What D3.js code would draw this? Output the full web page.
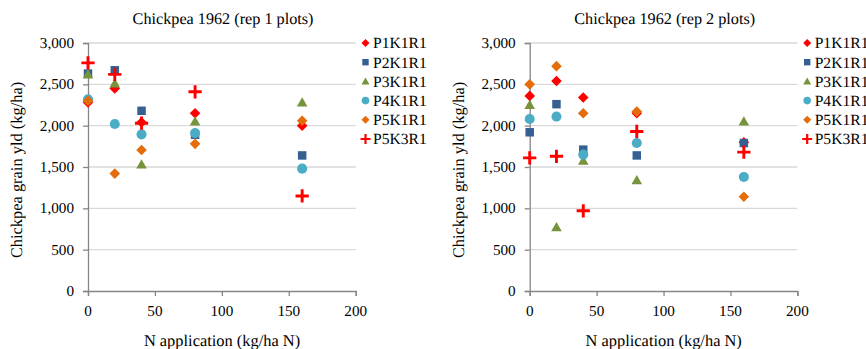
<!DOCTYPE html>
<html><head><meta charset="utf-8">
<script src="https://cdn.jsdelivr.net/npm/d3@7"></script>
<style>body{margin:0;background:#fff}svg{display:block}</style>
</head><body>
<svg id="c" width="866" height="349"></svg>
<script>
const nRates = [0, 20, 40, 80, 160];
const seriesNames = ["P1K1R1", "P2K1R1", "P3K1R1", "P4K1R1", "P5K1R1", "P5K3R1"];
const panelTitles = ["Chickpea 1962 (rep 1 plots)", "Chickpea 1962 (rep 2 plots)"];
// rep 1 yields (kg/ha) per series, at N = 0,20,40,80,160
const rep1P1K1R1 = [2280, 2450, 2040, 2150, 2000];
const rep1P2K1R1 = [2630, 2670, 2180, 1890, 1640];
const rep1P3K1R1 = [2620, 2510, 1530, 2050, 2280];
const rep1P4K1R1 = [2320, 2020, 1895, 1910, 1480];
const rep1P5K1R1 = [2300, 1420, 1705, 1780, 2060];
const rep1P5K3R1 = [2760, 2620, 2030, 2410, 1150];
// rep 2
const rep2P1K1R1 = [2360, 2540, 2340, 2150, 1800];
const rep2P2K1R1 = [1920, 2260, 1710, 1640, 1790];
const rep2P3K1R1 = [2250, 770, 1575, 1340, 2050];
const rep2P4K1R1 = [2080, 2110, 1650, 1790, 1380];
const rep2P5K1R1 = [2500, 2720, 2150, 2170, 1140];
const rep2P5K3R1 = [1610, 1630, 970, 1930, 1680];
const xTicks = [0, 50, 100, 150, 200];
const yTicks = [0, 500, 1000, 1500, 2000, 2500, 3000];
const xTitle = "N application (kg/ha N)";
const yTitle = "Chickpea grain yld (kg/ha)";

const reps = [
  [rep1P1K1R1, rep1P2K1R1, rep1P3K1R1, rep1P4K1R1, rep1P5K1R1, rep1P5K3R1],
  [rep2P1K1R1, rep2P2K1R1, rep2P3K1R1, rep2P4K1R1, rep2P5K1R1, rep2P5K3R1]
];
const colors = ["#FF0000", "#376092", "#77933C", "#4BACC6", "#E46C0A", "#FF0000"];
const shapes = ["diamond", "square", "triangle", "circle", "diamond", "cross"];
const FONT = '"Liberation Serif", "Times New Roman", "Noto Serif", "DejaVu Serif", serif';

// Times-style advance widths (em), used to keep every label at the reference's width
const adv = {" ": .25, ",": .25, "(": .333, ")": .333, "/": .278, "C": .667, "h": .5, "i": .278,
  "c": .444, "k": .5, "p": .5, "e": .444, "a": .444, "r": .333, "l": .278, "o": .5, "t": .278,
  "s": .389, "g": .5, "n": .5, "y": .5, "d": .5, "N": .722, "P": .556, "K": .722, "R": .667};
const emWidth = s => Array.from(s).reduce((w, ch) => w + (adv[ch] !== undefined ? adv[ch] : .5), 0);

const svg = d3.select("#c");

function label(parent, x, y, size, str, anchor, rot) {
  return parent.append("text")
    .attr("transform", `translate(${x},${y}) rotate(${rot || 0})`)
    .attr("text-anchor", anchor || "start")
    .attr("text-rendering", "geometricPrecision")
    .attr("textLength", (emWidth(str) * size).toFixed(2))
    .attr("lengthAdjust", "spacingAndGlyphs")
    .style("font-family", FONT).style("font-size", size + "px")
    .attr("fill", "#000").text(str);
}

function marker(g, shape, color, cx, cy, s) {
  if (shape === "diamond") {
    g.append("path").attr("d", `M${cx},${cy - s}L${cx + s},${cy}L${cx},${cy + s}L${cx - s},${cy}Z`).attr("fill", color);
  } else if (shape === "square") {
    const h = s * 0.8;
    g.append("rect").attr("x", cx - h).attr("y", cy - h).attr("width", 2 * h).attr("height", 2 * h).attr("fill", color);
  } else if (shape === "triangle") {
    g.append("path").attr("d", `M${cx},${cy - s}L${cx + s},${cy + s * 0.75}L${cx - s},${cy + s * 0.75}Z`).attr("fill", color);
  } else if (shape === "circle") {
    g.append("circle").attr("cx", cx).attr("cy", cy).attr("r", s * 0.95).attr("fill", color);
  } else if (shape === "cross") {
    const c = s * 1.25;
    g.append("path").attr("d", `M${cx - c},${cy}H${cx + c}M${cx},${cy - c}V${cy + c}`)
      .attr("stroke", color).attr("stroke-width", s * 0.55).attr("fill", "none");
  }
}

function drawPanel(ox, title, data) {
  const g = svg.append("g").attr("transform", `translate(${ox},0)`);
  const x = d3.scaleLinear().domain([0, 200]).range([88, 355.7]);
  const y = d3.scaleLinear().domain([0, 3000]).range([291, 43]);

  g.selectAll(".grid").data(yTicks.filter(d => d > 0)).enter().append("line")
    .attr("x1", x(0)).attr("x2", x(200)).attr("y1", d => y(d)).attr("y2", d => y(d))
    .attr("stroke", "#D9D9D9").attr("stroke-width", 1.3);

  const ya = g.append("g").attr("transform", `translate(${x(0)},0)`)
    .call(d3.axisLeft(y).tickValues(yTicks).tickFormat("").tickSize(5));
  ya.select(".domain").attr("stroke", "#868686").attr("stroke-width", 1.3);
  ya.selectAll(".tick line").attr("stroke", "#868686").attr("stroke-width", 1.3);
  ya.selectAll(".tick text").remove();
  const fmt = d3.format(",");
  yTicks.forEach(t => label(g, 74, y(t) + 5, 15.2, fmt(t), "end"));

  const xa = g.append("g").attr("transform", `translate(0,${y(0)})`)
    .call(d3.axisBottom(x).tickValues(xTicks).tickFormat("").tickSize(5));
  xa.select(".domain").attr("stroke", "#868686").attr("stroke-width", 1.3);
  xa.selectAll(".tick line").attr("stroke", "#868686").attr("stroke-width", 1.3);
  xa.selectAll(".tick text").remove();
  xTicks.forEach(t => label(g, x(t), 316, 15.2, String(t), "middle"));

  data.forEach((vals, si) => {
    const sg = g.append("g");
    vals.forEach((v, i) => marker(sg, shapes[si], colors[si], x(nRates[i]), y(v), 5.3));
  });

  label(g, 223, 24, 16.2, title, "middle");
  label(g, 222, 346, 16.4, xTitle, "middle");
  label(g, 22, 170, 16.4, yTitle, "middle", -90);

  seriesNames.forEach((name, si) => {
    const ly = 43 + si * 19.2;
    marker(g, shapes[si], colors[si], 365.5, ly, 4);
    label(g, 373, ly + 5.3, 15.6, name, "start");
  });
}

drawPanel(0, panelTitles[0], reps[0]);
drawPanel(441.7, panelTitles[1], reps[1]);
</script>
</body></html>
